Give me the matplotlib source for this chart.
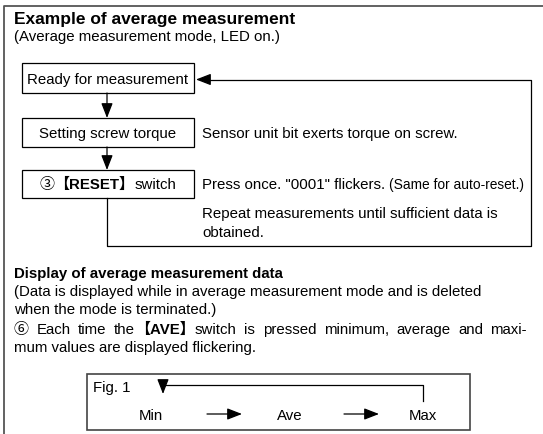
import matplotlib
matplotlib.use("Agg")
import matplotlib.pyplot as plt
from matplotlib.patches import Rectangle

FONT = ["Liberation Sans", "Noto Sans CJK JP", "DejaVu Sans"]
plt.rcParams["font.family"] = FONT

# --- texts of the diagram ---
title = "Example of average measurement"
subtitle = "(Average measurement mode, LED on.)"
box_labels = [
    [("Ready for measurement", "normal")],
    [("Setting screw torque", "normal")],
    [("③", "normal"), ("【RESET】", "bold"), ("switch", "normal")],
]
side_notes = [
    "",
    "Sensor unit bit exerts torque on screw.",
    "Press once. \"0001\" flickers. ",
]
side_small = "(Same for auto-reset.)"
repeat_lines = ["Repeat measurements until sufficient data is", "obtained."]
section2 = "Display of average measurement data"
section2_note = [
    "(Data is displayed while in average measurement mode and is deleted",
    "when the mode is terminated.)",
]
step6_words = [
    [("⑥", "normal")], [("Each", "normal")], [("time", "normal")],
    [("the", "normal"), ("【AVE】", "bold"), ("switch", "normal")],
    [("is", "normal")], [("pressed", "normal")], [("minimum,", "normal")],
    [("average", "normal")], [("and", "normal")], [("maxi-", "normal")],
]
step6_last = "mum values are displayed flickering."
fig_label = "Fig. 1"
cycle = ["Min", "Ave", "Max"]

W, H = 543, 435
fig = plt.figure(figsize=(W / 100, H / 100), dpi=100)
ax = fig.add_axes([0, 0, 1, 1])
ax.set_xlim(0, W)
ax.set_ylim(H, 0)
ax.axis("off")
renderer = fig.canvas.get_renderer()

FS = 10.8


def seg_width(s, weight, size):
    t = ax.text(0, 0, s, fontsize=size, fontweight=weight)
    w = t.get_window_extent(renderer).width
    t.remove()
    return w


def put_segments(x, y, segs, size=FS, ha="left"):
    widths = [seg_width(s, wt, size) for s, wt in segs]
    if ha == "center":
        x = x - sum(widths) / 2
    for (s, wt), w in zip(segs, widths):
        ax.text(x, y, s, fontsize=size, fontweight=wt, va="baseline")
        x += w
    return x


def arrow(x0, y0, x1, y1):
    ax.annotate("", xy=(x1, y1), xytext=(x0, y0),
                arrowprops=dict(arrowstyle="-|>,head_length=0.9,head_width=0.35",
                                color="black", lw=0.9, shrinkA=0, shrinkB=0,
                                mutation_scale=10))


# outer frame (cropped on right / bottom)
ax.plot([4, 4, W], [H, 7, 7], color="#555555", lw=1.3, solid_capstyle="butt")

# heading
ax.text(14, 24, title, fontsize=12.5, fontweight="bold", va="baseline")
ax.text(14, 41, subtitle, fontsize=FS, va="baseline")

# flow boxes
box_x0, box_x1 = 22, 194
box_y = [(64, 94), (119, 148), (171, 199)]
cx = 107
for (y0, y1), segs in zip(box_y, box_labels):
    ax.add_patch(Rectangle((box_x0, y0), box_x1 - box_x0, y1 - y0,
                           fill=False, lw=0.9, ec="black"))
    put_segments((box_x0 + box_x1) / 2, y1 - 10, segs, ha="center")

for i in range(2):
    arrow(cx, box_y[i][1], cx, box_y[i + 1][0])

# side notes
ax.text(202, box_y[1][1] - 10, side_notes[1], fontsize=FS, va="baseline")
xe = put_segments(202, box_y[2][1] - 10, [(side_notes[2], "normal")])
ax.text(xe, box_y[2][1] - 10, side_small, fontsize=9.9, va="baseline")
ax.text(202, 218, repeat_lines[0], fontsize=FS, va="baseline")
ax.text(202, 237, repeat_lines[1], fontsize=FS, va="baseline")

# feedback loop
loop_y = 80.5
ax.plot([cx, cx, 531, 531, 205], [box_y[2][1], 247, 247, loop_y, loop_y],
        color="black", lw=0.9)
arrow(206, loop_y, 196, loop_y)

# section 2
ax.text(14, 278, section2, fontsize=FS, fontweight="bold", va="baseline")
ax.text(14, 296, section2_note[0], fontsize=FS, va="baseline")
ax.text(14, 314, section2_note[1], fontsize=FS, va="baseline")

# justified line
x_left, x_right = 14, 527
wws = [sum(seg_width(s, wt, FS) for s, wt in word) for word in step6_words]
gap = (x_right - x_left - sum(wws)) / (len(step6_words) - 1)
x = x_left
for word, w in zip(step6_words, wws):
    put_segments(x, 334, word)
    x += w + gap
ax.text(14, 352, step6_last, fontsize=FS, va="baseline")

# Fig. 1 box
ax.add_patch(Rectangle((87, 375), 470 - 87, 431 - 375, fill=False,
                       lw=1.2, ec="#444444"))
ax.text(93, 392, fig_label, fontsize=FS, va="baseline")
cycle_x = [151, 290, 423]
for lab, xc in zip(cycle, cycle_x):
    ax.text(xc, 420, lab, fontsize=FS, ha="center", va="baseline")
arrow(207, 415, 242, 415)
arrow(344, 415, 379, 415)
ax.plot([cycle_x[2], cycle_x[2], cycle_x[0] + 12], [402, 386, 386],
        color="black", lw=0.9)
arrow(cycle_x[0] + 12, 386, cycle_x[0] + 12, 395)

fig.savefig("out.png", dpi=100)
